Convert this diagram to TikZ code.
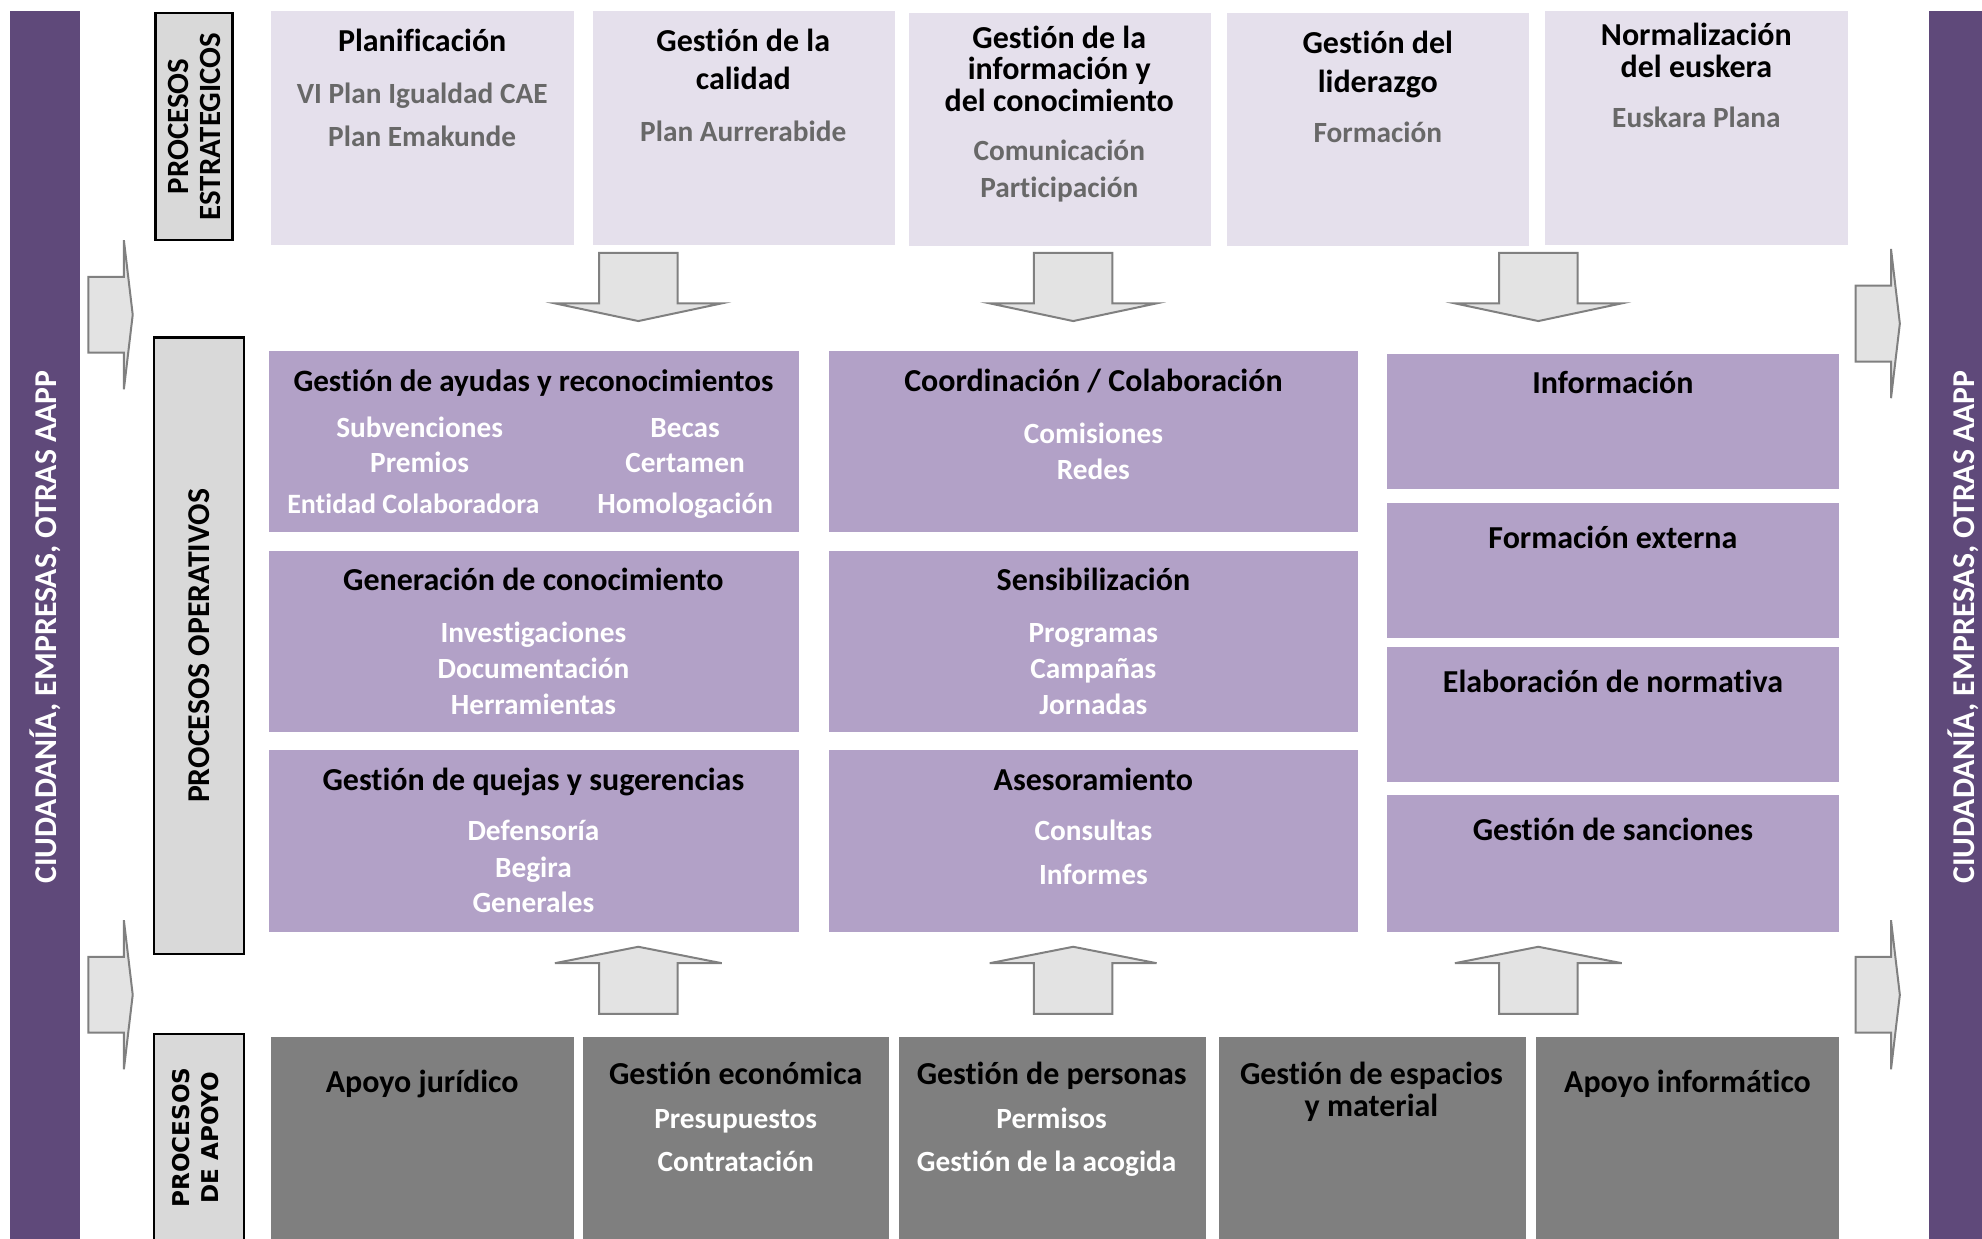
\documentclass[tikz,border=0pt]{standalone}
\usepackage{fontspec}
\setmainfont{Carlito}[Ligatures=NoCommon]
\newfontfamily\anchafont{DejaVu Sans}
\usetikzlibrary{fit}

\definecolor{morado}{HTML}{5F497A}
\definecolor{lilaclaro}{HTML}{E5E0EC}
\definecolor{lila}{HTML}{B2A1C7}
\definecolor{grisapoyo}{HTML}{7F7F7F}
\definecolor{grisetiq}{HTML}{D9D9D9}
\definecolor{grisflecha}{HTML}{E3E3E3}
\definecolor{grissub}{HTML}{686868}

\tikzset{
  caja/.style={inner sep=0pt, outer sep=0pt},
  est/.style={caja, fill=lilaclaro},
  op/.style={caja, fill=lila},
  apo/.style={caja, fill=grisapoyo},
  barra/.style={caja, fill=morado},
  etiq/.style={caja, fill=grisetiq, draw=black, line width=1pt},
  bloque/.style={fill=grisflecha, draw=black!50, line width=0.9pt, line join=miter},
  tit/.style={anchor=base, font=\bfseries\fontsize{14.4}{17}\selectfont},
  sub/.style={anchor=base, text=white, font=\bfseries\fontsize{13.2}{16}\selectfont},
  subg/.style={sub, text=grissub},
  lado/.style={rotate=90, text=white, font=\bfseries\fontsize{14.3}{17}\selectfont},
}

\begin{document}
\begin{tikzpicture}[x=0.2mm, y=-0.2mm]
\useasboundingbox (0,0) rectangle (1568,980);

% barras laterales
\node[barra, fit={(8,9) (63,990)}] (izq) {};
\node[barra, fit={(1526,9) (1580,990)}] (der) {};
\node[lado] (izq-t) at (36,496) {CIUDADANÍA, EMPRESAS, OTRAS AAPP};
\node[lado] (der-t) at (1553,496) {CIUDADANÍA, EMPRESAS, OTRAS AAPP};

% etiquetas
\node[etiq, fit={(123,10) (184,190)}] (lab-est) {};
\node[etiq, fit={(122,267) (193,755)}] (lab-op) {};
\node[etiq, fit={(122,818) (193,995)}] (lab-apo) {};
\node[rotate=90, align=center, font=\bfseries\fontsize{13.9}{14.4}\selectfont] (lab-est-t) at (lab-est) {PROCESOS\\ESTRATEGICOS};
\node[rotate=90, font=\bfseries\fontsize{14.3}{17}\selectfont] (lab-op-t) at (lab-op) {PROCESOS OPERATIVOS};
\node[rotate=90, align=center, font=\anchafont\bfseries\fontsize{10.4}{13}\selectfont] (lab-apo-t) at (154.5,900) {PROCESOS\\DE APOYO};

% procesos estrategicos
\node[est, fit={(214,9) (454,194)}] (plan) {};
\node[est, fit={(469,9) (708,194)}] (calidad) {};
\node[est, fit={(719,10) (958,195)}] (info) {};
\node[est, fit={(971,10) (1210,195)}] (lider) {};
\node[est, fit={(1222,9) (1462,194)}] (eusk) {};

% procesos operativos
\node[op, fit={(213,278) (632,421)}] (ayudas) {};
\node[op, fit={(213,436) (632,579)}] (conoc) {};
\node[op, fit={(213,593) (632,737)}] (quejas) {};
\node[op, fit={(656,278) (1074,421)}] (coord) {};
\node[op, fit={(656,436) (1074,579)}] (sensib) {};
\node[op, fit={(656,593) (1074,737)}] (asesor) {};
\node[op, fit={(1097,280) (1455,387)}] (informa) {};
\node[op, fit={(1097,398) (1455,505)}] (formext) {};
\node[op, fit={(1097,512) (1455,619)}] (normat) {};
\node[op, fit={(1097,629) (1455,737)}] (sanc) {};

% procesos de apoyo
\node[apo, fit={(214,820) (454,995)}] (juri) {};
\node[apo, fit={(461,820) (703,995)}] (econ) {};
\node[apo, fit={(711,820) (954,995)}] (pers) {};
\node[apo, fit={(964,820) (1207,995)}] (espac) {};
\node[apo, fit={(1215,820) (1455,995)}] (infor) {};

% flechas
\foreach \cx in {505,849,1217} {
  \draw[bloque] (\cx-31,200) -- ++(62,0) -- ++(0,40) -- ++(35,0) -- (\cx,254) -- (\cx-66,240) -- ++(35,0) -- cycle;
  \draw[bloque] (\cx-31,802) -- ++(62,0) -- ++(0,-40) -- ++(35,0) -- (\cx,749) -- (\cx-66,762) -- ++(35,0) -- cycle;
}
\foreach \x/\ya in {70/249, 70/787, 1468/256, 1468/787}
  \draw[bloque] (\x,\ya-30) -- (\x+28,\ya-30) -- (\x+28,\ya-59) -- (\x+35,\ya) -- (\x+28,\ya+59) -- (\x+28,\ya+30) -- (\x,\ya+30) -- cycle;

% textos estrategicos
\node[tit] (plan-1) at (334,41) {Planificación};
\node[subg] (plan-2) at (334,82) {VI Plan Igualdad CAE};
\node[subg] (plan-3) at (334,116) {Plan Emakunde};
\node[tit] (cal-1) at (588,41) {Gestión de la};
\node[tit] (cal-2) at (588,71) {calidad};
\node[subg] (cal-3) at (588,112) {Plan Aurrerabide};
\node[tit] (info-1) at (838,38) {Gestión de la};
\node[tit] (info-2) at (838,63) {información y};
\node[tit] (info-3) at (838,88) {del conocimiento};
\node[subg] (info-4) at (838,127) {Comunicación};
\node[subg] (info-5) at (838,156) {Participación};
\node[tit] (lid-1) at (1090,42) {Gestión del};
\node[tit] (lid-2) at (1090,73) {liderazgo};
\node[subg] (lid-3) at (1090,113) {Formación};
\node[tit] (eus-1) at (1342,36) {Normalización};
\node[tit] (eus-2) at (1342,61) {del euskera};
\node[subg] (eus-3) at (1342,101) {Euskara Plana};

% textos operativos
\node[tit, font=\bfseries\fontsize{14}{17}\selectfont] (ay-1) at (422,310) {Gestión de ayudas y reconocimientos};
\node[sub] (ay-2) at (332,346) {Subvenciones};
\node[sub] (ay-3) at (332,374) {Premios};
\node[sub, font=\bfseries\fontsize{12.6}{16}\selectfont] (ay-4) at (327,406) {Entidad Colaboradora};
\node[sub] (ay-5) at (542,346) {Becas};
\node[sub] (ay-6) at (542,374) {Certamen};
\node[sub] (ay-7) at (542,406) {Homologación};
\node[tit] (co-1) at (422,467) {Generación de conocimiento};
\node[sub] (co-2) at (422,508) {Investigaciones};
\node[sub] (co-3) at (422,537) {Documentación};
\node[sub] (co-4) at (422,565) {Herramientas};
\node[tit] (qu-1) at (422,625) {Gestión de quejas y sugerencias};
\node[sub] (qu-2) at (422,665) {Defensoría};
\node[sub] (qu-3) at (422,694) {Begira};
\node[sub] (qu-4) at (422,722) {Generales};
\node[tit] (cd-1) at (865,310) {Coordinación / Colaboración};
\node[sub] (cd-2) at (865,351) {Comisiones};
\node[sub] (cd-3) at (865,379) {Redes};
\node[tit] (se-1) at (865,467) {Sensibilización};
\node[sub] (se-2) at (865,508) {Programas};
\node[sub] (se-3) at (865,537) {Campañas};
\node[sub] (se-4) at (865,565) {Jornadas};
\node[tit] (as-1) at (865,625) {Asesoramiento};
\node[sub] (as-2) at (865,665) {Consultas};
\node[sub] (as-3) at (865,700) {Informes};
\node[tit] (inf-1) at (1276,311) {Información};
\node[tit] (fe-1) at (1276,434) {Formación externa};
\node[tit] (no-1) at (1276,548) {Elaboración de normativa};
\node[tit] (sa-1) at (1276,665) {Gestión de sanciones};

% textos apoyo
\node[tit] (ju-1) at (334,864) {Apoyo jurídico};
\node[tit] (ec-1) at (582,858) {Gestión económica};
\node[sub] (ec-2) at (582,893) {Presupuestos};
\node[sub] (ec-3) at (582,927) {Contratación};
\node[tit] (pe-1) at (832,858) {Gestión de personas};
\node[sub] (pe-2) at (832,893) {Permisos};
\node[sub] (pe-3) at (828,927) {Gestión de la acogida};
\node[tit] (es-1) at (1085,858) {Gestión de espacios};
\node[tit] (es-2) at (1085,883) {y material};
\node[tit] (in-1) at (1335,864) {Apoyo informático};
\end{tikzpicture}
\end{document}
